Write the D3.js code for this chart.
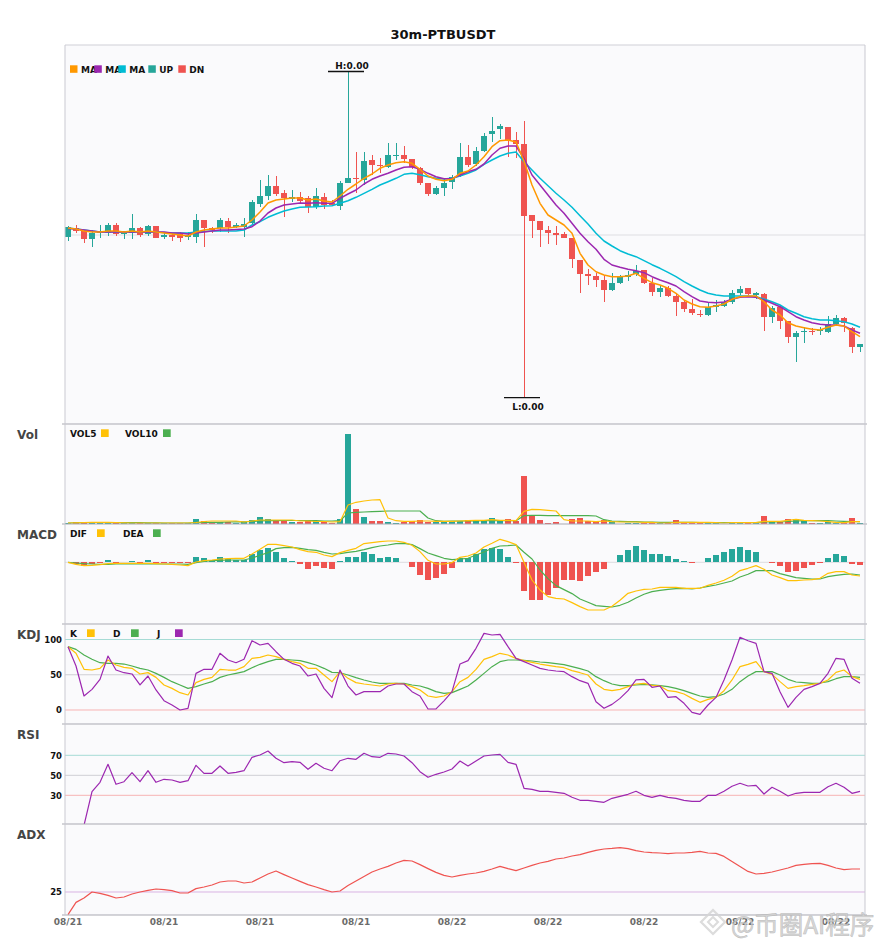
<!DOCTYPE html>
<html>
<head>
<meta charset="utf-8">
<script src="https://cdn.jsdelivr.net/npm/d3@7"></script>
<style>
  body { margin: 0; background: #fff; }
  svg text { font-family: "DejaVu Sans", sans-serif; font-weight: bold; }
</style>
</head>
<body>
<svg id="chart" width="885" height="950"></svg>
<script>
// prices are in units of 1e-5 USDT
const PRICE_UNIT = 1e-5;

const openP = [187.3,195.7,193.3,184.7,190.7,191.3,199,190,190.7,195.7,
  190,198,187.3,189,189.7,187.3,187.3,204,195.7,195.7,
  203,196.7,196.7,200.7,220,228,238,230.7,224.7,226.7,
  225.7,217.3,226.7,221.3,218,241.3,246.3,244,264,259,
  257.3,268.3,269,264.7,255.7,241.3,230,235.7,242.3,248,
  267.3,260,273.3,290,294.7,296.7,284,280,209,203.3,
  194,191.3,190,186.3,164,150,148,144,134,141.3,
  147.3,150,154,141.3,132.3,135.7,128,122.3,114.7,110,
  109,117.3,118,122.3,131.3,135.7,129,130,106.7,116.7,
  103.3,86.7,91.7,93,93,92.3,100,105.7,95.7,77.3];
const highP = [198,199,194,194,199,201.3,201,192.3,210,197.3,
  199,198,192.3,191.3,192.3,192.3,210,204,197.3,205.7,
  205.7,200.7,205.7,224,244,249,248,234,234,232.3,
  228,235.7,230.7,224,243.3,352,272.3,272.3,269,265.7,
  280.7,280.7,278,265,256.7,241.3,238,244.7,249,281.3,
  279,276.7,291.3,306.7,300,296.7,292.3,303.3,209,203.3,
  198,198,192.3,186.3,164,154.7,151.3,149,151.3,149,
  153.3,159,154,145.7,138,138,131.3,124,124.7,114,
  121.3,124,124,134,138,135.7,132.3,131.3,118,118,
  103.3,93.3,97.3,95.7,97.3,108,109,106.7,97.3,80];
const lowP = [183.3,191.3,180.7,177.3,185.7,188,188,184.7,184.7,187.3,
  188,185.7,184.7,183,182.3,184,180.7,177.3,190.7,192.3,
  191.3,195.7,187.3,199,217.3,224,228,207.3,222.3,220.7,
  211.3,214.7,214.7,218,214,241,231,239,249,250.7,
  255.7,264,260.7,254.7,239,228,229,228,234.7,247.3,
  257.3,258,272.3,282.3,284.7,266.7,265.7,26.3,185.7,176.7,
  180,179,185.7,155.7,131.3,139,136.7,122.3,133.3,140,
  143.3,148,140,128,127.3,126.7,108,112.3,109,107.3,
  108,112.3,117.3,120,129,129,124.7,93.3,101.3,94.7,
  81.3,62.3,80.7,89,89,90.7,99,92.3,71.3,72.3];
const closeP = [196.7,193.3,184.7,190.7,192,199,190,190.7,195.7,189,
  198,186.3,189,187.3,186.3,189,204,195.7,194,204,
  196.7,199,200,222.3,228,238,230,225.7,226.7,223.3,
  217.3,228,219,219,240.7,245.7,245.3,263,259,258,
  269,269,264.7,256.7,241.3,230,235.7,240.7,247.3,267.3,
  259,273.3,288,293.3,298,284,279.7,208,203.3,194,
  191.3,189.3,186.3,164.7,150,148.3,144,134,141.3,146.7,
  149,153.3,141.3,132.3,135.7,128,122.3,114.7,110.7,109,
  116.7,119,122.3,131.3,134.7,130,130.7,106.7,115.7,103.3,
  86.7,90.7,93,91.7,93.7,100,105.7,101.3,77.3,80];

const ma5 = [196,195,193,192,192,193,193,192,193,192,
  193,192,191,190,189,188,192,194,195,196,
  196,197,198,204,212,221,224,225,226,226,
  224,225,223,222,228,234.7,240,245.7,250,255.7,
  259,261.3,262.3,260.7,254.7,248,244.7,243.3,244.7,250.7,
  253,259,267.3,277.3,283.3,284,282,263,239,220.7,
  209,204,199,190.7,170.7,159,152.3,149,147.3,147.3,
  148,150.7,145.7,141.3,139,135.7,130.7,124,120,117.3,
  116.7,118,120,124.7,127.3,128,128,122.3,114,109,
  101.3,98,96.3,94.7,94,96.7,99,98,92.3,87.3];
const ma10 = [195.5,195,194,193,192,192,192,192,192,192,
  192,192,192,191,191,190,191,192,193,194,
  194,194.5,195,197.3,203,211,216,219,220,221,
  220.7,221.3,220.7,220.7,225.7,230,234,240,244.7,248,
  250.7,254,256.7,257.3,254.7,250.7,247.3,245.3,245.3,249,
  252.3,254.7,260,269,275.7,278,278,265.7,249,239,
  229,219,210.7,200.7,190.7,182.3,174.7,164.7,159,156.7,
  154.7,153.3,151.3,147.3,144,141.3,138,132.3,127.3,123,
  121.7,121.3,122,124.7,126.7,127.3,126.7,124,120.7,117.3,
  112.3,107.3,104,101.3,99.7,99,99,98,94,90.7];
const ma20 = [196,195,194,193,192,192,192,192,192,192,
  192,192,191.5,191,191,191,192,192.5,193,193,
  193,193,194,199,202.3,206.7,210,213,215,216.7,
  217,217.3,218,218.3,220.7,223.3,226.7,230.7,234.7,239,
  242.3,245.7,249.7,250.7,249.3,247.3,245.7,245,245.7,248,
  250.7,254,259.7,264,268,270.7,272,262.3,254,245.7,
  238.3,230.7,224,216.7,208.3,200,190.7,183,178,173.3,
  170,167.3,163.3,159.3,155.7,151.7,147.3,142.3,138,134,
  130.7,129,128,128,128,128,127.3,125,122.3,119,
  114,110.7,107.3,105.3,104,104,103.3,102.3,100,96.7];

const volume = [1,1.7,2.3,2.3,1,1,1,0.7,1,0.7,
  1,1,0.7,0.7,0.7,0.7,5.3,3.3,1,1.7,
  1.7,1,1.7,4.3,7.3,4.7,3.7,3.7,1.7,1.7,
  2.7,2.7,1.7,1,5.3,90.3,15.3,7.3,3.3,3.3,
  2.3,1.3,1.7,3.3,4.3,2.3,1.7,2.3,3.3,2.7,
  4.3,3,3,6,3,5,2.7,48,7.7,3.7,
  1.3,2.3,0.3,5,6,2.7,2.7,4.3,3.3,0.3,
  1,1,1,0.7,0.7,0.7,4.3,1,1.3,1.3,
  1.3,0.7,0.3,2.3,1,1,0.7,8.3,2.7,1.7,
  5.3,5.3,3.3,0.7,0.7,2,1,1,6.3,0.7];
const vol5 = [1,1.2,1.5,1.7,1.7,1.6,1.5,1.2,1,1,
  1,1,1,1,1,1,1.5,2.5,3,3,
  3,3,2,3,4,4,4,4,4,3,
  3,2.5,2.5,2,2.3,19,21.7,23,24,24.3,
  6,3.3,2.7,2.7,3,3,2.7,2.7,2.7,3,
  3.3,3.7,3.7,4.3,3.7,3.7,3.3,12.7,14.7,14.3,
  13.7,13,4.3,3,3,3,2.3,3,2.3,2,
  2,2,1.7,1.7,1,1,1.7,1.7,1.7,1.7,
  1.7,1.3,1,1.3,1.3,1.3,1.3,2.7,2.7,2.7,
  3.7,4.7,3.7,3.3,3,2.3,1.7,1.3,2.3,2.3];
const vol10 = [1,1.2,1.4,1.5,1.5,1.4,1.3,1.3,1.3,1.3,
  1.2,1.1,1,1,1,1,1.3,1.5,1.7,1.7,
  2,2.2,2.2,2.5,3.2,3.3,3.3,3.5,3.5,3.5,
  3.5,3.3,3,3,3.3,11,11.7,12,12.3,12.7,
  13,13,13,13,13,6,3.3,2.7,3,3,
  3,3,3.3,3.3,3.3,3.3,3.3,8.3,8.7,8.7,
  8.3,8.3,8.3,8.3,8.3,8.3,8,4.3,3,2.7,
  2.3,2.3,2,2,1.7,1.7,1.7,1.7,1.7,1.5,
  1.3,1.3,1.3,1.5,1.5,1.5,1.5,2,2,2,
  2.5,3,3.3,3.3,3.3,3.3,3,2.7,2.5,2.3];

const dif = [0,-2,-3.3,-3,-2.3,-1.3,-1,-1,-1,-1,
  -1,-1.3,-1.7,-2,-2.7,-3.3,0.3,1.7,2.3,3.3,
  3.7,4,4,8.3,13,18,18,16.7,15.3,12.7,
  10.7,10,7.3,5.7,9.7,12,14,18.7,19.7,20.7,
  21.3,21.3,20,17,10.7,2,-1.7,-1.7,-0.3,5,
  6.3,9.3,15.3,19,23,20.7,17.7,0,-17.7,-27.7,
  -34.3,-36,-36.7,-40.3,-44.3,-47.7,-47.7,-47.7,-44,-38,
  -31,-28.7,-27,-26.7,-25,-25,-25,-26,-26,-26,
  -23,-20.7,-18,-14,-8.3,-6,-3.3,-7,-12.7,-15.3,
  -18.3,-18.3,-17.7,-17.3,-16,-11,-9.3,-9.3,-12.7,-13.7];
const dea = [0,-0.7,-1.3,-1.7,-2,-2,-1.7,-1.7,-1.7,-1.7,
  -1.7,-1.7,-1.7,-1.7,-1.7,-2,-0.3,1,1.7,2,
  2.3,2.3,2.3,4.3,7,9.7,13.7,14.7,15,14,
  12.7,12,10,8.3,8.7,10,11,12.7,14.7,16.3,
  17.3,18.7,19,17.7,13.7,9.3,6.7,4,2.7,3.3,
  4,7.3,10.3,14,16.3,16.7,17.3,10,3.3,-7.7,
  -16.3,-23.3,-27.3,-31.3,-36.7,-40,-43.3,-44,-44.7,-43,
  -40,-35.7,-32,-29.3,-28,-27,-26.3,-26,-26.7,-25.7,
  -24,-22.7,-20.7,-18.7,-14.7,-12,-8.3,-8.3,-8.3,-11.3,
  -13.3,-15.3,-16,-16.7,-16.7,-14.3,-13,-12,-11.7,-12.7];
const macdHist = [0,-2,-3.7,-2,-1,2.3,-1,0,1,-0.5,
  2.3,-1,-0.7,-1,-1,-0.5,5.3,4.3,2.3,5.3,
  3,2.3,2.3,8.3,12.3,14.3,10.3,4.3,1,-1.7,
  -6.3,-3.7,-5.3,-6.3,1,5.3,5.3,10.3,8.3,4.3,
  5.3,4.3,0.3,-4.3,-12.7,-17.7,-15.3,-11.7,-5.3,4.7,
  4.7,8.3,13.3,14.3,13.3,5.3,-0.7,-28.7,-37.7,-37.7,
  -32.7,-25.3,-17.7,-17.7,-18.7,-13.3,-9.3,-6.7,0,7.3,
  12.3,16.3,12.3,8.3,8.3,6.3,3.3,1.3,-0.7,0,
  4.3,7.3,10.3,13.3,15.3,12.3,10.3,0,-0.7,-3.7,
  -9.3,-8.3,-5.3,-2.3,-1,4.3,8.3,6.3,-1.7,-2.3];

const kVals = [89.8,80.4,57.7,56.7,59.1,70.9,63.8,60.5,59.1,51.1,
  53,46.3,35.5,30.7,24.6,21.3,38.8,43.5,46.3,57.7,
  56.7,56.7,61.5,73.3,74.7,78,75.7,71.9,68.6,66.2,
  59.1,59.1,49.6,40.2,54.4,44.9,38.8,36.9,35.5,34,
  36.9,37.8,36.9,33.1,28.4,19.9,18,19.9,26,40.2,
  46.3,57.7,71.9,75.7,80.4,78,73.3,70,67.6,65.2,
  63.4,61.5,60,55.8,52.9,49.6,36.9,29.3,27.4,29.3,
  33.1,36.9,37.8,35,34,27.4,26,22.7,16.5,10.9,
  15.1,17.9,27.4,42.6,61.5,64.8,68.6,54.4,50.6,40.2,
  30.7,33.1,34.5,36.4,37.8,42.6,53.4,56.7,47.3,43.5];
const dVals = [89.8,86,78,71.9,67.1,66.2,66.2,65.2,62.4,59.1,
  56.7,52,46.3,40.2,35.5,30.7,33.1,36.9,40.2,46.3,
  49.6,52,54.4,60,64.8,68.6,71.9,71.9,70.9,70,
  67.1,63.8,59.1,53.4,52.9,49.6,45.9,42.6,39.7,37.8,
  37.8,37.8,37.8,35.5,34,30.7,26,23.6,24.6,29.3,
  34,42.6,52,61.5,68.6,70.9,70.9,70.4,69.5,68.1,
  67.1,65.7,64.3,61.5,58.6,55.3,47.3,41.6,36.9,34.5,
  34.5,35.5,36.4,35.5,34.5,33.1,30.7,27.4,23.6,19.9,
  18,18.9,22.7,29.3,40.2,48.2,54.4,54.4,54.4,49.6,
  43.5,39.7,38.8,37.8,38.3,40.2,44.4,47.3,47.3,46.3];
const jVals = [89.8,62.4,19.9,29.3,43.5,76.6,56.7,52.9,51.1,35.5,
  48.2,28.4,13.2,7.1,0,2.4,52,57.7,57.7,80.4,
  70.9,67.1,71.9,98.3,92.2,94.6,82.7,71.9,66.2,62.4,
  48.2,51.1,30.7,17.5,56.7,34,21.3,26,26,26,
  34,36.9,36.9,26,19.9,1.4,1.5,13,26,65.2,
  70,87.5,108.7,106.4,107.3,89.8,73.3,68.6,63.8,59.1,
  56.7,55.3,54.4,47.3,41.6,37.8,11.8,2.4,8,16.5,
  27.4,42.6,43.5,32.2,34,17.9,18.9,9.5,-3.3,-6.1,
  7.1,17.9,42.6,70.9,103.1,98.3,94.6,54.4,52,26,
  3.8,17.9,29.3,33.1,37.8,52,73.3,71.9,44.9,37.8];

const rsiVals = [0,0,0,33.6,43,61,41,43.6,52.6,43.6,
  54.6,43,46,45.3,43,44.6,60,52,52,59.3,
  52,53,54.6,68,70.3,74.3,67,62.6,63.6,63,
  56,62,57,54.6,64.6,67,66,72,68.6,68,
  72,71.3,69.3,62.6,53.6,48,51,53.3,56.3,64.3,
  59.3,64.3,69.3,70.3,71,63,61,37,36,34,
  34,33,32,28,25,25,24,23,27,29,
  31,34,30,28,30,28,27,25,24,24,
  30,30,34,39,42,39.3,40,31.3,38,34,
  29.3,32,33,33,33,38.6,42,38,32,34];
const adxVals = [13.7,19.8,22,25,24.3,23.3,22,22.5,24,25,
  25.8,26.5,26.2,25.7,24.5,24.5,26.7,27.5,28.5,30,
  30.5,30.5,29.5,30,32,34,35.5,33.7,32,30.3,
  28.7,27.5,26.2,25,25.5,28.2,30.5,32.8,35,36.5,
  37.8,39.5,40.8,40.5,38.7,36.7,34.8,33.3,32.5,33.3,
  34,34.5,35.3,36.5,37.8,36.7,35.7,37,38.3,39.5,
  40.3,41.5,42,43,43.7,44.8,45.8,46.5,46.8,47.2,
  46.7,45.7,45,44.7,44.5,44.2,44.5,44.5,44.8,45.3,
  44.5,44.3,42.8,40.3,37.8,35.3,34,34.3,35,36,
  37,38.3,38.8,39.2,39.3,38.3,37,36.2,36.5,36.5];

const xTickIndex = [0, 12, 24, 36, 48, 60, 72, 84, 96];
const xTickText = ['08/21', '08/21', '08/21', '08/21', '08/22', '08/22', '08/22', '08/22', '08/22'];
const mainGrid = [189];
const kdjTicks = [0, 50, 100];
const rsiTicks = [30, 50, 70];
const adxTicks = [25];

const UP = '#26a69a', DN = '#ef5350';
const ORANGE = '#ff9800', PURPLE = '#9c27b0', CYAN = '#00bcd4';
const YELLOW = '#ffc107', GREEN = '#4caf50';

const n = closeP.length;
const svg = d3.select('#chart');
const plotL = 65, plotR = 865;

var x = d3.scaleBand()
    .domain(d3.range(n))
    .range([64, 864])
    .paddingInner(0.28)
    .paddingOuter(0.14);
var cx = function (i) { return x(i) + x.bandwidth() / 2; };

var yMain = d3.scaleLinear().domain([0, 380]).range([424, 44]);
var yVol = d3.scaleLinear().domain([0, 100]).range([524, 424]);
var yMacd = d3.scaleLinear().domain([-61.7, 38.3]).range([624, 524]);
var yKdj = d3.scaleLinear().domain([0, 100]).range([710, 639.5]);
var yRsi = d3.scaleLinear().domain([0, 100]).range([825.3, 725.3]);
var yAdx = d3.scaleLinear().domain([13.5, 59]).range([915, 824]);

var isUp = function (i) { return closeP[i] >= openP[i]; };

var defs = svg.append('defs');
// RSI panel clip: the zero values sit just under the panel edge
defs.append('clipPath').attr('id', 'rsiClip')
    .append('rect').attr('x', plotL).attr('y', 724).attr('width', plotR - plotL).attr('height', 100);

// Background of the plotting area
svg.append('rect')
    .attr('x', plotL).attr('y', 45)
    .attr('width', plotR - plotL).attr('height', 915 - 45)
    .attr('fill', '#fafafc');

// Horizontal reference lines
function hGrid(scale, values, colors) {
    svg.append('g').selectAll('line')
        .data(values)
        .enter().append('line')
        .attr('x1', plotL).attr('x2', plotR)
        .attr('y1', function (d) { return scale(d); })
        .attr('y2', function (d) { return scale(d); })
        .attr('stroke', function (d, i) { return colors[i]; })
        .attr('stroke-width', 1);
}
hGrid(yMain, mainGrid, ['#dedee2']);
hGrid(yKdj, kdjTicks, ['#f7b3b3', '#cfcfd4', '#a6dbd5']);
hGrid(yRsi, rsiTicks, ['#f7b3b3', '#cfcfd4', '#a6dbd5']);
hGrid(yAdx, adxTicks, ['#d9b3e3']);

function drawLine(values, scale, color, width, clip) {
    var p = svg.append('path')
        .datum(values)
        .attr('fill', 'none')
        .attr('stroke', color)
        .attr('stroke-width', width)
        .attr('stroke-linejoin', 'round')
        .attr('d', d3.line()
            .x(function (d, i) { return cx(i); })
            .y(function (d) { return scale(d); }));
    if (clip) p.attr('clip-path', 'url(#' + clip + ')');
}

// Candles
var candles = svg.append('g').attr('shape-rendering', 'crispEdges');
candles.selectAll('.wick')
    .data(d3.range(n))
    .enter().append('line')
    .attr('class', 'wick')
    .attr('x1', function (i) { return cx(i) + 0.5; })
    .attr('x2', function (i) { return cx(i) + 0.5; })
    .attr('y1', function (i) { return yMain(highP[i]); })
    .attr('y2', function (i) { return yMain(lowP[i]); })
    .attr('stroke', function (i) { return isUp(i) ? UP : DN; });
candles.selectAll('.body')
    .data(d3.range(n))
    .enter().append('rect')
    .attr('class', 'body')
    .attr('x', function (i) { return x(i); })
    .attr('width', x.bandwidth())
    .attr('y', function (i) { return yMain(Math.max(openP[i], closeP[i])); })
    .attr('height', function (i) {
        return Math.max(1, Math.abs(yMain(openP[i]) - yMain(closeP[i])));
    })
    .attr('fill', function (i) { return isUp(i) ? UP : DN; });

drawLine(ma20, yMain, CYAN, 1.5);
drawLine(ma10, yMain, PURPLE, 1.5);
drawLine(ma5, yMain, ORANGE, 1.5);

// Highest high / lowest low markers
var hi = d3.maxIndex(highP), lo = d3.minIndex(lowP);
svg.append('line').attr('x1', cx(hi) - 20).attr('x2', cx(hi) + 16)
    .attr('y1', yMain(highP[hi]) - 0.5).attr('y2', yMain(highP[hi]) - 0.5)
    .attr('stroke', '#111').attr('stroke-width', 1.3);
svg.append('text').attr('x', cx(hi) + 4).attr('y', yMain(highP[hi]) - 3)
    .attr('text-anchor', 'middle').attr('font-size', 9).attr('fill', '#111')
    .text('H:' + (highP[hi] * PRICE_UNIT).toFixed(2));
svg.append('line').attr('x1', cx(lo) - 20).attr('x2', cx(lo) + 16)
    .attr('y1', yMain(lowP[lo])).attr('y2', yMain(lowP[lo]))
    .attr('stroke', '#111').attr('stroke-width', 1.3);
svg.append('text').attr('x', cx(lo) + 4).attr('y', yMain(lowP[lo]) + 12)
    .attr('text-anchor', 'middle').attr('font-size', 9).attr('fill', '#111')
    .text('L:' + (lowP[lo] * PRICE_UNIT).toFixed(2));

// Volume
svg.append('g').attr('shape-rendering', 'crispEdges').selectAll('rect')
    .data(volume)
    .enter().append('rect')
    .attr('x', function (d, i) { return x(i); })
    .attr('width', x.bandwidth())
    .attr('y', function (d) { return yVol(d); })
    .attr('height', function (d) { return yVol(0) - yVol(d); })
    .attr('fill', function (d, i) { return isUp(i) ? UP : DN; });
drawLine(vol10, yVol, GREEN, 1.2);
drawLine(vol5, yVol, YELLOW, 1.2);

// MACD
svg.append('line').attr('x1', plotL).attr('x2', plotR)
    .attr('y1', yMacd(0)).attr('y2', yMacd(0)).attr('stroke', '#dcdce0');
svg.append('g').attr('shape-rendering', 'crispEdges').selectAll('rect')
    .data(macdHist)
    .enter().append('rect')
    .attr('x', function (d, i) { return x(i); })
    .attr('width', x.bandwidth())
    .attr('y', function (d) { return yMacd(Math.max(0, d)); })
    .attr('height', function (d) { return Math.abs(yMacd(d) - yMacd(0)); })
    .attr('fill', function (d) { return d >= 0 ? UP : DN; });
drawLine(dea, yMacd, GREEN, 1.2);
drawLine(dif, yMacd, YELLOW, 1.2);

// KDJ, RSI, ADX
drawLine(dVals, yKdj, GREEN, 1.2);
drawLine(kVals, yKdj, YELLOW, 1.2);
drawLine(jVals, yKdj, PURPLE, 1.2);
drawLine(rsiVals, yRsi, PURPLE, 1.2, 'rsiClip');
drawLine(adxVals, yAdx, DN, 1.2);

// Frame and panel separators (on top of the marks)
svg.append('line').attr('x1', plotL).attr('x2', plotR).attr('y1', 45).attr('y2', 45)
    .attr('stroke', '#cfcfd6');
[424, 524, 624, 724, 824, 915].forEach(function (yy) {
    svg.append('line').attr('x1', 62).attr('x2', 867).attr('y1', yy).attr('y2', yy)
        .attr('stroke', '#a9a9b2').attr('stroke-width', 1);
});
[plotL, plotR].forEach(function (xx) {
    svg.append('line').attr('x1', xx).attr('x2', xx).attr('y1', 45).attr('y2', 915)
        .attr('stroke', '#c9c9d1');
});

// Left value labels
function leftAxis(scale, ticks) {
    svg.append('g')
        .attr('transform', 'translate(' + plotL + ',0)')
        .call(d3.axisLeft(scale).tickValues(ticks).tickSize(0).tickPadding(3))
        .call(function (g) { g.select('.domain').remove(); })
        .selectAll('text')
        .attr('font-size', 8.5)
        .attr('fill', '#111')
        .style('font-family', '"DejaVu Sans", sans-serif')
        .style('font-weight', 'bold');
}
leftAxis(yKdj, kdjTicks);
leftAxis(yRsi, rsiTicks);
leftAxis(yAdx, adxTicks);

// X axis
var xAxis = svg.append('g')
    .attr('transform', 'translate(0,915)')
    .call(d3.axisBottom(x)
        .tickValues(xTickIndex)
        .tickFormat(function (d, k) { return xTickText[k]; })
        .tickSize(0)
        .tickPadding(4));
xAxis.select('.domain').remove();
xAxis.selectAll('text')
    .attr('font-size', 9)
    .attr('fill', '#6b6b6b')
    .style('font-family', '"DejaVu Sans", sans-serif')
    .style('font-weight', 'bold');

// Titles
svg.append('text').attr('x', 443).attr('y', 39).attr('text-anchor', 'middle')
    .attr('font-size', 13).attr('fill', '#111').text('30m-PTBUSDT');
[['Vol', 439], ['MACD', 539], ['KDJ', 639], ['RSI', 739], ['ADX', 839]].forEach(function (t) {
    svg.append('text').attr('x', 17).attr('y', t[1])
        .attr('font-size', 12).attr('fill', '#454545').text(t[0]);
});

// Main legend: square, then the name cut down to what fits before the next item
var mainLegend = [
    { name: 'MA5', color: ORANGE, sx: 70 },
    { name: 'MA10', color: PURPLE, sx: 94.3 },
    { name: 'MA20', color: CYAN, sx: 118.3 },
    { name: 'UP', color: UP, sx: 148.3 },
    { name: 'DN', color: DN, sx: 178.3 }
];
mainLegend.forEach(function (it, k) {
    var room = (k < mainLegend.length - 1 ? mainLegend[k + 1].sx : it.sx + 40) - it.sx - 11 + 3;
    var t = svg.append('text').attr('x', it.sx + 11).attr('y', 72.5)
        .attr('font-size', 9).attr('fill', '#111')
        .text(it.name);
    var label = it.name;
    while (label.length > 1 && t.node().getComputedTextLength() > room) {
        label = label.slice(0, -1);
        t.text(label);
    }
});
mainLegend.forEach(function (it) {
    svg.append('rect').attr('x', it.sx).attr('y', 65.3)
        .attr('width', 7.5).attr('height', 7.5).attr('fill', it.color);
});

// Panel legends (label, then square)
function panelLegend(baseline, items) {
    items.forEach(function (it) {
        svg.append('text').attr('x', it.tx).attr('y', baseline)
            .attr('font-size', 9).attr('fill', '#111').text(it.name);
        svg.append('rect').attr('x', it.sx).attr('y', baseline - 7.7)
            .attr('width', 7.7).attr('height', 7.7).attr('fill', it.color);
    });
}
panelLegend(437, [
    { name: 'VOL5', color: YELLOW, tx: 70, sx: 101 },
    { name: 'VOL10', color: GREEN, tx: 125, sx: 163 }
]);
panelLegend(537, [
    { name: 'DIF', color: YELLOW, tx: 70, sx: 97 },
    { name: 'DEA', color: GREEN, tx: 123, sx: 153 }
]);
panelLegend(637, [
    { name: 'K', color: YELLOW, tx: 70, sx: 87 },
    { name: 'D', color: GREEN, tx: 113, sx: 131 },
    { name: 'J', color: PURPLE, tx: 157, sx: 175 }
]);

// Watermark
var wm = svg.append('g').attr('opacity', 0.85);
[[12, 2.2], [5, 2]].forEach(function (s) {
    wm.append('path')
        .attr('d', 'M713,' + (922 - s[0]) + 'L' + (713 + s[0]) + ',922L713,' + (922 + s[0]) +
            'L' + (713 - s[0]) + ',922Z')
        .attr('fill', 'none').attr('stroke', '#d6d6d6').attr('stroke-width', s[1]);
});
wm.append('text').attr('x', 731).attr('y', 934)
    .attr('font-size', 24.5)
    .style('font-family', '"Noto Sans CJK SC", sans-serif')
    .style('font-weight', 'normal')
    .attr('fill', '#d2d2d2')
    .attr('stroke', '#b0b0b0').attr('stroke-width', 0.5)
    .text('@币圈AI程序');
</script>
</body>
</html>
